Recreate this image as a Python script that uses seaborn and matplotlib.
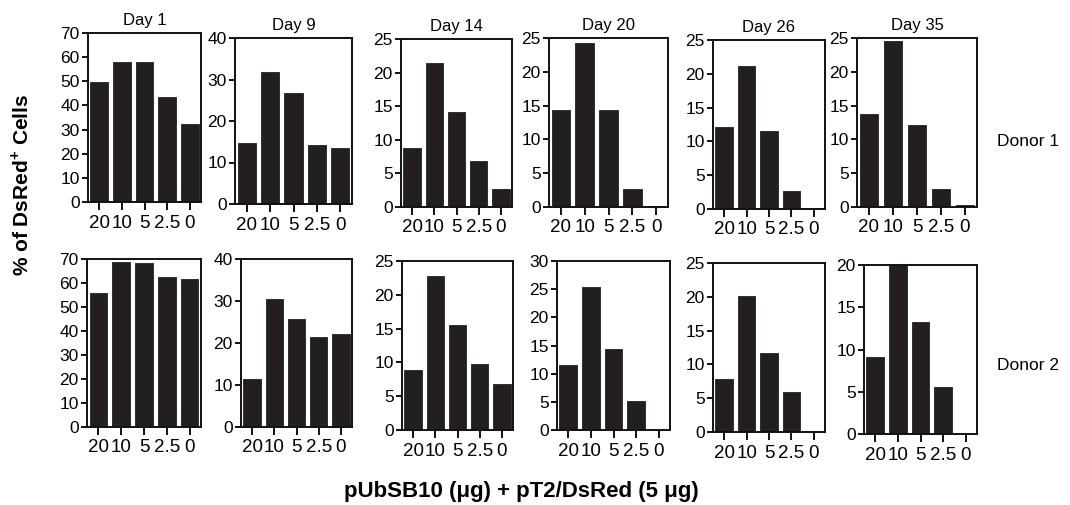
import matplotlib
matplotlib.use("Agg")
import matplotlib.pyplot as plt
import seaborn as sns
import pandas as pd

# doses of pUbSB10 (ug) on the x axis
doses = ["20", "10", "5", "2.5", "0"]
days = ["Day 1", "Day 9", "Day 14", "Day 20", "Day 26", "Day 35"]

# % of DsRed+ cells
donor1 = {
    "Day 1": [49.5, 57.8, 57.8, 43.6, 32.4],
    "Day 9": [14.8, 31.7, 26.8, 14.3, 13.6],
    "Day 14": [8.8, 21.4, 14.1, 6.9, 2.7],
    "Day 20": [14.4, 24.2, 14.4, 2.6, 0.2],
    "Day 26": [12.1, 21.2, 11.6, 2.6, 0.2],
    "Day 35": [13.7, 24.6, 12.1, 2.7, 0.25],
}
donor2 = {
    "Day 1": [56.0, 68.9, 68.3, 62.3, 61.8],
    "Day 9": [11.4, 30.5, 25.6, 21.5, 22.2],
    "Day 14": [8.9, 22.8, 15.6, 9.7, 6.8],
    "Day 20": [11.5, 25.4, 14.3, 5.1, 0.0],
    "Day 26": [7.8, 20.1, 11.7, 5.9, 0.0],
    "Day 35": [9.1, 20.0, 13.2, 5.55, 0.0],
}
donors = ["Donor 1", "Donor 2"]

# y axis limits / tick steps per panel
ymax1 = [70, 40, 25, 25, 25, 25]
ystep1 = [10, 10, 5, 5, 5, 5]
ymax2 = [70, 40, 25, 30, 25, 20]
ystep2 = [10, 10, 5, 5, 5, 5]

# panel boxes in pixels (left, right, top, bottom)
boxes1 = [(88, 201, 33, 202), (235, 352, 38, 204), (401, 512, 39, 207),
          (549, 668, 38, 207), (713, 825, 40, 209), (857, 977, 38, 207)]
boxes2 = [(87, 201, 259, 427), (241, 352, 259, 427), (402, 513, 261, 430),
          (557, 670, 261, 430), (713, 825, 263, 432), (864, 977, 265, 434)]

sns.set_style("ticks")
plt.rcParams["font.family"] = ["Liberation Sans", "DejaVu Sans"]
plt.rcParams["mathtext.fontset"] = "custom"
plt.rcParams["mathtext.bf"] = "Liberation Sans:bold"
plt.rcParams["text.color"] = "black"

W, H = 1070, 505
fig = plt.figure(figsize=(W / 100, H / 100), dpi=100)

bar_color = "#231f20"


def draw_panel(box, vals, ymax, ystep, title=None):
    l, r, t, b = box
    ax = fig.add_axes([l / W, 1 - b / H, (r - l) / W, (b - t) / H])
    df = pd.DataFrame({"dose": doses, "pct": vals})
    sns.barplot(data=df, x="dose", y="pct", order=doses, ax=ax,
                color=bar_color, saturation=1, width=0.78,
                edgecolor=bar_color, linewidth=0.6)
    ax.set_xlim(-0.5, 4.5)
    ax.set_ylim(0, ymax)
    ax.set_yticks(range(0, ymax + 1, ystep))
    ax.set_xlabel("")
    ax.set_ylabel("")
    for s in ax.spines.values():
        s.set_visible(True)
        s.set_linewidth(1.4)
        s.set_color("#111111")
    ax.tick_params(axis="y", labelsize=12.5, width=1.4, length=4.5,
                   colors="#111111", labelcolor="black", pad=1.5)
    ax.tick_params(axis="x", labelsize=13.5, width=1.4, length=6,
                   colors="#111111", labelcolor="black", pad=3)
    if title:
        ax.set_title(title, fontsize=12, pad=6)
    return ax


for i, d in enumerate(days):
    draw_panel(boxes1[i], donor1[d], ymax1[i], ystep1[i], title=d)
    draw_panel(boxes2[i], donor2[d], ymax2[i], ystep2[i])

fig.text(1028 / W, 1 - 141 / H, donors[0], ha="center", va="center", fontsize=12.5)
fig.text(1028 / W, 1 - 366 / H, donors[1], ha="center", va="center", fontsize=12.5)

fig.text(21 / W, 1 - 185 / H, r"% of DsRed$^{\mathbf{+}}$ Cells", rotation=90,
         ha="center", va="center", fontsize=15, fontweight="bold")
fig.text(521 / W, 1 - 492 / H, "pUbSB10 (\u03bcg) + pT2/DsRed (5 \u03bcg)",
         ha="center", va="center", fontsize=16, fontweight="bold")

fig.savefig("out.png", dpi=100)
